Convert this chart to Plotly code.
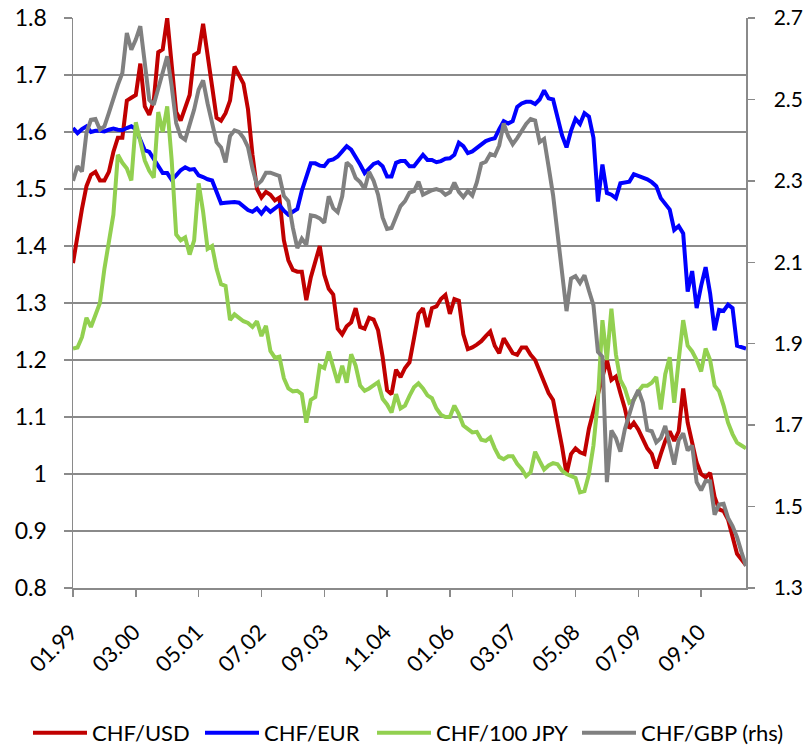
import plotly.graph_objects as go

# ---------------- data (monthly, 01.1999 .. 07.2011) ----------------
start_year = 1999
n_months = 151
month_labels = []
for k in range(n_months):
    yy = start_year + k // 12
    mm = k % 12 + 1
    month_labels.append(f"{mm:02d}.{yy % 100:02d}")

tick_labels = ["01.99", "03.00", "05.01", "07.02", "09.03", "11.04",
               "01.06", "03.07", "05.08", "07.09", "09.10"]

chf_usd = [
    1.37, 1.42, 1.465, 1.505, 1.525, 1.53, 1.515, 1.515, 1.53, 1.565,
    1.59, 1.59, 1.655, 1.66, 1.665, 1.72, 1.645, 1.63, 1.655, 1.74,
    1.745, 1.80, 1.72, 1.635, 1.62, 1.645, 1.665, 1.735, 1.74, 1.79,
    1.73, 1.68, 1.625, 1.62, 1.633, 1.655, 1.715, 1.70, 1.685, 1.64,
    1.56, 1.50, 1.485, 1.495, 1.49, 1.48, 1.485, 1.41, 1.375, 1.358,
    1.355, 1.355, 1.305, 1.345, 1.37, 1.40, 1.35, 1.325, 1.315, 1.255,
    1.245, 1.259, 1.266, 1.291, 1.258, 1.255, 1.274, 1.271, 1.252, 1.206,
    1.147, 1.14, 1.183, 1.17, 1.186, 1.196, 1.238, 1.281, 1.291, 1.258,
    1.291, 1.294, 1.307, 1.314, 1.281, 1.307, 1.304, 1.245, 1.219, 1.222,
    1.227, 1.233, 1.242, 1.25, 1.225, 1.212, 1.238, 1.225, 1.212, 1.209,
    1.222, 1.222, 1.209, 1.20, 1.18, 1.16, 1.142, 1.13, 1.09, 1.048,
    1.00, 1.035, 1.045, 1.038, 1.035, 1.08, 1.11, 1.14, 1.17, 1.20,
    1.165, 1.171, 1.142, 1.115, 1.08, 1.09, 1.078, 1.06, 1.045, 1.035,
    1.01, 1.035, 1.058, 1.075, 1.058, 1.075, 1.15, 1.09, 1.052, 1.02,
    1.0, 0.994, 1.002, 0.96, 0.938, 0.935, 0.92, 0.888, 0.86, 0.85,
    0.84,
]

chf_eur = [
    1.607, 1.598, 1.605, 1.61, 1.60, 1.602, 1.602, 1.601, 1.604, 1.606,
    1.604, 1.603, 1.607, 1.61, 1.605, 1.585, 1.568, 1.565, 1.553, 1.54,
    1.528, 1.528, 1.516, 1.524, 1.533, 1.538, 1.534, 1.535, 1.524, 1.521,
    1.517, 1.515, 1.497, 1.475, 1.476, 1.477, 1.477, 1.476, 1.47, 1.463,
    1.46, 1.466, 1.457, 1.467, 1.46, 1.467, 1.472, 1.462, 1.455, 1.46,
    1.465, 1.497, 1.52, 1.545, 1.545, 1.541, 1.54, 1.55, 1.552, 1.557,
    1.566, 1.575, 1.569, 1.557, 1.543, 1.528, 1.537, 1.544, 1.547, 1.54,
    1.522, 1.522, 1.546, 1.549, 1.549, 1.54, 1.54, 1.549, 1.56, 1.551,
    1.551, 1.547, 1.549, 1.553, 1.554, 1.56, 1.581, 1.575, 1.563, 1.566,
    1.572, 1.576, 1.584, 1.587, 1.589, 1.605, 1.619, 1.615, 1.619, 1.644,
    1.65, 1.653, 1.653, 1.649, 1.657, 1.673, 1.659, 1.657, 1.625, 1.594,
    1.573, 1.602, 1.623, 1.614, 1.633, 1.627, 1.59, 1.478, 1.543, 1.493,
    1.49, 1.484, 1.51, 1.512, 1.513, 1.526, 1.523, 1.519, 1.517, 1.512,
    1.505, 1.484, 1.474, 1.464, 1.428, 1.435, 1.422, 1.32, 1.356, 1.291,
    1.33, 1.363, 1.317, 1.252, 1.288, 1.286, 1.297, 1.291, 1.225, 1.222,
    1.22,
]

chf_100jpy = [
    1.22, 1.222, 1.24, 1.274, 1.258, 1.28, 1.30, 1.36, 1.405, 1.455,
    1.56, 1.546, 1.536, 1.515, 1.617, 1.585, 1.55, 1.532, 1.52, 1.635,
    1.60, 1.645, 1.55, 1.42, 1.41, 1.415, 1.385, 1.41, 1.51, 1.46,
    1.395, 1.40, 1.36, 1.333, 1.33, 1.27, 1.28, 1.274, 1.268, 1.265,
    1.258, 1.268, 1.242, 1.26, 1.216, 1.204, 1.206, 1.168, 1.15, 1.145,
    1.146, 1.14, 1.09, 1.13, 1.135, 1.19, 1.186, 1.215, 1.188, 1.16,
    1.19, 1.16, 1.21, 1.19, 1.155, 1.146, 1.15, 1.156, 1.161, 1.132,
    1.122, 1.108, 1.14, 1.115, 1.12, 1.137, 1.152, 1.159, 1.15, 1.138,
    1.133, 1.115, 1.104, 1.10, 1.10, 1.12, 1.105, 1.085, 1.08, 1.073,
    1.074, 1.06, 1.058, 1.064, 1.045, 1.03, 1.026, 1.031, 1.031, 1.018,
    1.009, 0.996, 1.003, 1.039, 1.023, 1.008, 1.015, 1.019, 1.017, 1.006,
    1.0, 0.997, 0.993, 0.968, 0.97, 1.0, 1.05, 1.13, 1.27, 1.20,
    1.29, 1.21, 1.165, 1.15, 1.125, 1.13, 1.145, 1.155, 1.155, 1.16,
    1.17, 1.113, 1.175, 1.205, 1.125, 1.20, 1.27, 1.225, 1.215, 1.20,
    1.18, 1.22, 1.20, 1.155, 1.145, 1.12, 1.09, 1.07, 1.055, 1.05,
    1.045,
]

chf_gbp = [
    2.30, 2.336, 2.323, 2.418, 2.45, 2.452, 2.426, 2.434, 2.467, 2.504,
    2.536, 2.565, 2.663, 2.622, 2.647, 2.68, 2.581, 2.499, 2.487, 2.524,
    2.561, 2.606, 2.532, 2.442, 2.409, 2.401, 2.438, 2.475, 2.524, 2.547,
    2.49, 2.44, 2.395, 2.382, 2.345, 2.41, 2.424, 2.42, 2.406, 2.383,
    2.33, 2.29, 2.30, 2.32, 2.32, 2.316, 2.312, 2.263, 2.25, 2.185,
    2.135, 2.158, 2.143, 2.215, 2.213, 2.208, 2.197, 2.262, 2.233, 2.223,
    2.262, 2.345, 2.335, 2.307, 2.297, 2.28, 2.322, 2.30, 2.266, 2.21,
    2.182, 2.184, 2.21, 2.238, 2.25, 2.271, 2.275, 2.298, 2.266, 2.272,
    2.277, 2.28, 2.276, 2.266, 2.272, 2.296, 2.273, 2.26, 2.275, 2.264,
    2.296, 2.342, 2.347, 2.366, 2.362, 2.387, 2.441, 2.41, 2.39, 2.405,
    2.425, 2.44, 2.452, 2.448, 2.395, 2.403, 2.335, 2.265, 2.17, 2.08,
    1.98, 2.06, 2.066, 2.049, 2.068, 2.03, 1.995, 1.88, 1.868, 1.56,
    1.687, 1.668, 1.635, 1.69, 1.73, 1.763, 1.786, 1.755, 1.688, 1.685,
    1.658, 1.668, 1.698, 1.648, 1.603, 1.663, 1.68, 1.638, 1.65, 1.56,
    1.54, 1.563, 1.562, 1.48, 1.505, 1.507, 1.472, 1.452, 1.425, 1.388,
    1.354,
]

left_ticks = [0.8, 0.9, 1.0, 1.1, 1.2, 1.3, 1.4, 1.5, 1.6, 1.7, 1.8]
left_tick_text = ["0.8", "0.9", "1", "1.1", "1.2", "1.3", "1.4", "1.5", "1.6", "1.7", "1.8"]
right_ticks = [1.3, 1.5, 1.7, 1.9, 2.1, 2.3, 2.5, 2.7]
right_tick_text = ["1.3", "1.5", "1.7", "1.9", "2.1", "2.3", "2.5", "2.7"]

series_names = ["CHF/USD", "CHF/EUR", "CHF/100 JPY", "CHF/GBP (rhs)"]
series_values = [chf_usd, chf_eur, chf_100jpy, chf_gbp]
series_colors = ["#C00000", "#0000FF", "#92D050", "#808080"]
series_axes = ["y", "y", "y", "y2"]

# ---------------- figure ----------------
FONT = "Lato, Carlito, Calibri, 'Noto Sans', sans-serif"
AXIS_GREY = "#8a8a8a"
W, H = 807, 745

legend_ids = ["legend", "legend2", "legend3", "legend4"]
legend_left_px = [28, 200, 372, 577]

fig = go.Figure()
for name, vals, color, yax, lid in zip(series_names, series_values, series_colors,
                                        series_axes, legend_ids):
    fig.add_trace(go.Scatter(
        x=month_labels, y=vals, name=name, mode="lines", yaxis=yax,
        line=dict(color=color, width=4), legend=lid,
    ))

legend_common = dict(
    orientation="h", xref="container", yref="container",
    xanchor="left", yanchor="middle",
    font=dict(family=FONT, size=22, color="black"),
    itemwidth=54, bgcolor="rgba(0,0,0,0)",
)
legend_layout = {}
for lid, px in zip(legend_ids, legend_left_px):
    legend_layout[lid] = dict(legend_common, x=px / W, y=1 - 733 / H)

fig.update_layout(
    width=W, height=H,
    margin=dict(l=73, r=61, t=18, b=157, autoexpand=False),
    plot_bgcolor="white", paper_bgcolor="white",
    font=dict(family=FONT, size=23, color="black"),
    showlegend=True,
    xaxis=dict(
        type="category", range=[0, n_months - 1],
        tickmode="array", tickvals=tick_labels, ticktext=tick_labels,
        tickangle=-45, ticks="outside", ticklen=7, tickcolor=AXIS_GREY, tickwidth=1.5,
        showline=True, linecolor=AXIS_GREY, linewidth=1.5,
        showgrid=False, zeroline=False,
        ticklabelstandoff=14, ticklabelshift=-2,
        tickfont=dict(family=FONT, size=22),
    ),
    yaxis=dict(
        range=[0.8, 1.8], tickmode="array", tickvals=left_ticks, ticktext=left_tick_text,
        showgrid=True, gridcolor=AXIS_GREY, gridwidth=1.5,
        showline=True, linecolor=AXIS_GREY, linewidth=1.5,
        ticks="outside", ticklen=8, tickcolor=AXIS_GREY, tickwidth=1.5,
        zeroline=False, ticklabelstandoff=12,
        tickfont=dict(family=FONT, size=23),
    ),
    yaxis2=dict(
        range=[1.3, 2.7], overlaying="y", side="right",
        tickmode="array", tickvals=right_ticks, ticktext=right_tick_text,
        showgrid=False, showline=True, linecolor=AXIS_GREY, linewidth=1.5,
        ticks="outside", ticklen=7, tickcolor=AXIS_GREY, tickwidth=1.5,
        zeroline=False, ticklabelstandoff=15,
        tickfont=dict(family=FONT, size=21),
    ),
    **legend_layout,
)

page_fix = ("document.body.style.margin='0';"
            "document.body.style.padding='0';"
            "document.body.style.overflow='hidden';"
            "document.documentElement.style.overflow='hidden';")

fig.write_html("out.html", post_script=page_fix,
               config={"displayModeBar": False, "staticPlot": True})
